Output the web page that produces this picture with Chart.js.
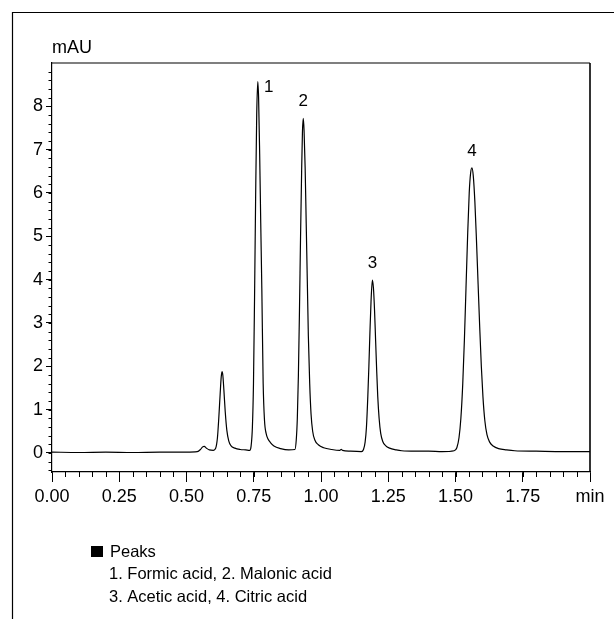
<!DOCTYPE html>
<html>
<head>
<meta charset="utf-8">
<script src="https://cdn.jsdelivr.net/npm/chart.js@4.4.1/dist/chart.umd.min.js"></script>
<style>
  html, body { margin: 0; padding: 0; background: #fff; }
  canvas { display: block; }
</style>
</head>
<body>
<canvas id="chrom" width="614" height="619"></canvas>
<script>
// chromatogram trace (time in min, signal in mAU)
const TIME = [
    0.00, 0.10, 0.20, 0.30, 0.40, 0.50, 0.54, 0.552, 0.56, 0.566, 0.574, 0.585, 0.60,
    0.608, 0.615, 0.62, 0.625, 0.629, 0.632, 0.635, 0.639, 0.644, 0.65, 0.657, 0.665, 0.68, 0.70, 0.72,
    0.735, 0.740, 0.745, 0.749, 0.753, 0.757, 0.761, 0.765, 0.768, 0.772, 0.776, 0.780, 0.785, 0.790,
    0.796, 0.803, 0.812, 0.825, 0.85, 0.88,
    0.903, 0.908, 0.912, 0.916, 0.920, 0.924, 0.928, 0.931, 0.934, 0.937, 0.941, 0.945, 0.949, 0.953,
    0.958, 0.963, 0.969, 0.977, 0.99, 1.01, 1.04, 1.07, 1.075, 1.08, 1.11,
    1.150, 1.158, 1.164, 1.169, 1.174, 1.178, 1.182, 1.186, 1.191, 1.195, 1.199, 1.203, 1.207, 1.211,
    1.216, 1.222, 1.23, 1.24, 1.255, 1.28, 1.30, 1.35, 1.40, 1.45,
    1.495, 1.505, 1.513, 1.520, 1.527, 1.533, 1.539, 1.545, 1.551, 1.556, 1.561, 1.566, 1.572, 1.578,
    1.584, 1.590, 1.596, 1.602, 1.609, 1.617, 1.627, 1.64, 1.66, 1.69, 1.72, 1.80, 1.90, 2.00
];
const SIGNAL = [
    0.02, 0.01, 0.02, 0.01, 0.02, 0.02, 0.03, 0.08, 0.14, 0.15, 0.11, 0.07, 0.06,
    0.10, 0.35, 0.80, 1.35, 1.75, 1.88, 1.80, 1.45, 0.95, 0.52, 0.28, 0.17, 0.11, 0.08, 0.07,
    0.06, 0.15, 0.60, 1.60, 3.60, 5.90, 7.80, 8.57, 8.20, 6.90, 5.30, 3.80, 1.60, 0.75,
    0.45, 0.32, 0.24, 0.16, 0.10, 0.07,
    0.08, 0.30, 0.80, 1.80, 3.30, 5.00, 6.50, 7.40, 7.72, 7.45, 6.60, 5.30, 4.00, 2.70,
    1.60, 0.90, 0.50, 0.30, 0.19, 0.12, 0.08, 0.06, 0.08, 0.06, 0.04,
    0.03, 0.08, 0.25, 0.60, 1.30, 2.00, 2.80, 3.50, 3.99, 3.80, 3.30, 2.60, 1.90, 1.30,
    0.80, 0.45, 0.26, 0.17, 0.11, 0.07, 0.05, 0.04, 0.04, 0.03,
    0.05, 0.12, 0.35, 0.80, 1.60, 2.60, 3.80, 5.00, 6.00, 6.45, 6.58, 6.40, 5.80, 4.90,
    3.90, 2.90, 2.00, 1.30, 0.75, 0.42, 0.25, 0.16, 0.10, 0.07, 0.05, 0.04, 0.03, 0.03
];

// peak annotations
const PEAK_LABELS = ['1', '2', '3', '4'];
const PEAK_TIMES = [0.765, 0.934, 1.191, 1.561];
const PEAK_HEIGHTS = [8.57, 7.72, 3.99, 6.58];

// axes
const Y_TICKS = [0, 1, 2, 3, 4, 5, 6, 7, 8];
const X_MIN = 0, X_MAX = 2, X_STEP = 0.25, X_MINOR = 0.05;
const Y_MIN = -0.44, Y_MAX = 9.0, Y_MINOR = 0.2;

const LEGEND_TITLE = 'Peaks';
const LEGEND_LINES = ['1. Formic acid, 2. Malonic acid', '3. Acetic acid, 4. Citric acid'];

const FONT = 'Liberation Sans, Arial, sans-serif';

const decorPlugin = {
    id: 'decor',
    afterDraw(chart) {
        const ctx = chart.ctx;
        const a = chart.chartArea;
        const xs = chart.scales.x, ys = chart.scales.y;
        ctx.save();

        // outer frame (top + left)
        ctx.strokeStyle = '#000';
        ctx.lineWidth = 1.2;
        ctx.beginPath();
        ctx.moveTo(614, 12.5);
        ctx.lineTo(12.5, 12.5);
        ctx.lineTo(12.5, 619);
        ctx.stroke();

        // plot box top + right
        ctx.beginPath();
        ctx.moveTo(a.left, a.top);
        ctx.lineTo(a.right, a.top);
        ctx.stroke();
        ctx.lineWidth = 1.6;
        ctx.beginPath();
        ctx.moveTo(a.right, a.top);
        ctx.lineTo(a.right, a.bottom);
        ctx.stroke();

        // minor ticks
        ctx.lineWidth = 1;
        ctx.beginPath();
        for (let v = X_MIN + X_MINOR; v < X_MAX - 1e-9; v += X_MINOR) {
            const px = Math.round(xs.getPixelForValue(v)) + 0.5;
            ctx.moveTo(px, a.bottom);
            ctx.lineTo(px, a.bottom + 5);
        }
        for (let v = -0.4; v < Y_MAX - 1e-9; v += Y_MINOR) {
            const py = Math.round(ys.getPixelForValue(v)) + 0.5;
            ctx.moveTo(a.left, py);
            ctx.lineTo(a.left - 3.5, py);
        }
        ctx.stroke();

        // unit label
        ctx.fillStyle = '#000';
        ctx.font = '18px ' + FONT;
        ctx.textAlign = 'left';
        ctx.textBaseline = 'middle';
        ctx.fillText('mAU', a.left, 48);

        // peak numbers
        ctx.font = '17px ' + FONT;
        ctx.textAlign = 'center';
        PEAK_LABELS.forEach((lab, i) => {
            const px = xs.getPixelForValue(PEAK_TIMES[i]);
            const py = ys.getPixelForValue(PEAK_HEIGHTS[i]);
            if (i === 0) ctx.fillText(lab, px + 11, py + 6);
            else ctx.fillText(lab, px, py - 17);
        });

        // legend block
        ctx.fillRect(91, 546, 12, 11);
        ctx.font = '16.5px ' + FONT;
        ctx.textAlign = 'left';
        ctx.fillText(LEGEND_TITLE, 110, 552);
        LEGEND_LINES.forEach((t, i) => ctx.fillText(t, 109, 574 + i * 23));

        ctx.restore();
    }
};

new Chart(document.getElementById('chrom'), {
    type: 'line',
    data: {
        datasets: [{
            data: TIME.map((t, i) => ({ x: t, y: SIGNAL[i] })),
            borderColor: '#000',
            borderWidth: 1.2,
            pointRadius: 0,
            cubicInterpolationMode: 'monotone',
            fill: false
        }]
    },
    options: {
        responsive: false,
        animation: false,
        layout: { padding: { left: 0, top: 63, right: 24, bottom: 0 } },
        plugins: { legend: { display: false }, tooltip: { enabled: false } },
        scales: {
            x: {
                type: 'linear',
                min: X_MIN,
                max: X_MAX,
                ticks: {
                    stepSize: X_STEP,
                    autoSkip: false,
                    maxRotation: 0,
                    padding: 4,
                    color: '#000',
                    font: { family: FONT, size: 18 },
                    callback: v => (Math.abs(v - X_MAX) < 1e-9 ? 'min' : v.toFixed(2))
                },
                grid: { drawOnChartArea: false, drawTicks: true, tickLength: 10, tickColor: '#000', tickWidth: 1 },
                border: { color: '#000', width: 1.2 },
                afterFit: s => { s.height = 147; }
            },
            y: {
                type: 'linear',
                min: Y_MIN,
                max: Y_MAX,
                afterBuildTicks: s => { s.ticks = Y_TICKS.map(v => ({ value: v })); },
                ticks: {
                    padding: 3,
                    color: '#000',
                    font: { family: FONT, size: 18 },
                    callback: v => String(v)
                },
                grid: { drawOnChartArea: false, drawTicks: true, tickLength: 6, tickColor: '#000', tickWidth: 1 },
                border: { color: '#000', width: 1.2 },
                afterFit: s => { s.width = 52; }
            }
        }
    },
    plugins: [decorPlugin]
});
</script>
</body>
</html>
